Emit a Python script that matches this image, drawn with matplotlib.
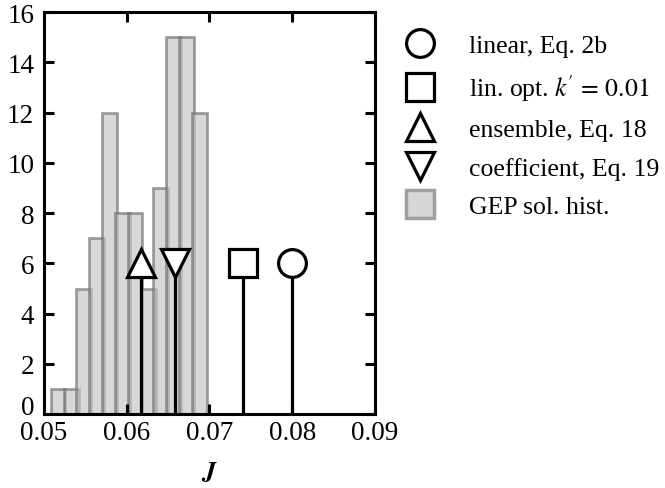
import matplotlib.pyplot as plt
from matplotlib.lines import Line2D
from matplotlib.transforms import ScaledTranslation

# histogram of GEP solutions
bin_centers = [0.0517, 0.0533, 0.0548, 0.0564, 0.0579, 0.0595,
               0.0610, 0.0626, 0.0641, 0.0657, 0.0672, 0.0688]
counts = [1, 1, 5, 7, 12, 8, 8, 5, 9, 15, 15, 12]
bar_width = 0.0018

# single estimates, shown as stems with markers
est_labels = ["linear, Eq. 2b", "lin. opt. $k^{\\!\\prime}\\,=\\,0.01$",
              "ensemble, Eq. 18", "coefficient, Eq. 19"]
est_J = [0.0800, 0.0740, 0.0617, 0.0658]
est_height = [6, 6, 6, 6]
est_markers = ["o", "s", "^", "v"]

plt.rcParams["font.family"] = ["Liberation Serif", "DejaVu Serif"]
plt.rcParams["mathtext.fontset"] = "stix"

fig = plt.figure(figsize=(6.65, 4.89), dpi=100)
ax = fig.add_axes([0.066, 0.151, 0.498, 0.822])

ax.bar(bin_centers, counts, width=bar_width, color="#c4c4c4",
       edgecolor="#6e6e6e", linewidth=2, alpha=0.65, zorder=1)

handles = []
for x, h, m, lab in zip(est_J, est_height, est_markers, est_labels):
    ax.vlines(x, 0, h, color="black", linewidth=2.3, zorder=2)
    ax.plot([x], [h], marker=m, ms=20, mfc="white", mec="black",
            mew=2.3, ls="none", zorder=3)
    handles.append(Line2D([], [], marker=m, ms=20, mfc="white", mec="black",
                          mew=2.3, ls="none", label=lab))
handles.append(Line2D([], [], marker="s", ms=20, mfc="#d6d6d6", mec="#a0a0a0",
                      mew=2.5, ls="none", label="GEP sol. hist."))

ax.set_xlim(0.05, 0.09)
ax.set_ylim(0, 16)
ax.set_xticks([0.05, 0.06, 0.07, 0.08, 0.09])
ax.set_xticklabels(["0.05", "0.06", "0.07", "0.08", "0.09"])
ax.set_yticks(range(0, 17, 2))
ax.tick_params(direction="in", length=7, width=2.2, top=True, right=True,
               labelsize=19.5)
ax.tick_params(axis="x", pad=4)
ax.tick_params(axis="y", pad=7)
for sp in ax.spines.values():
    sp.set_linewidth(2.2)

# the "0" label sits a bit above its tick in the original
zero_lab = ax.get_yticklabels()[0]
zero_lab.set_transform(zero_lab.get_transform()
                       + ScaledTranslation(0, 7 / 72, fig.dpi_scale_trans))

ax.set_xlabel("$\\boldsymbol{J}$", fontsize=19, labelpad=10)

fig.legend(handles=handles, loc="upper left", bbox_to_anchor=(0.585, 0.955),
           frameon=False, fontsize=18.5, handlelength=1.4, handletextpad=1.2,
           labelspacing=0.6, borderpad=0)

fig.savefig("out.png", dpi=100)
